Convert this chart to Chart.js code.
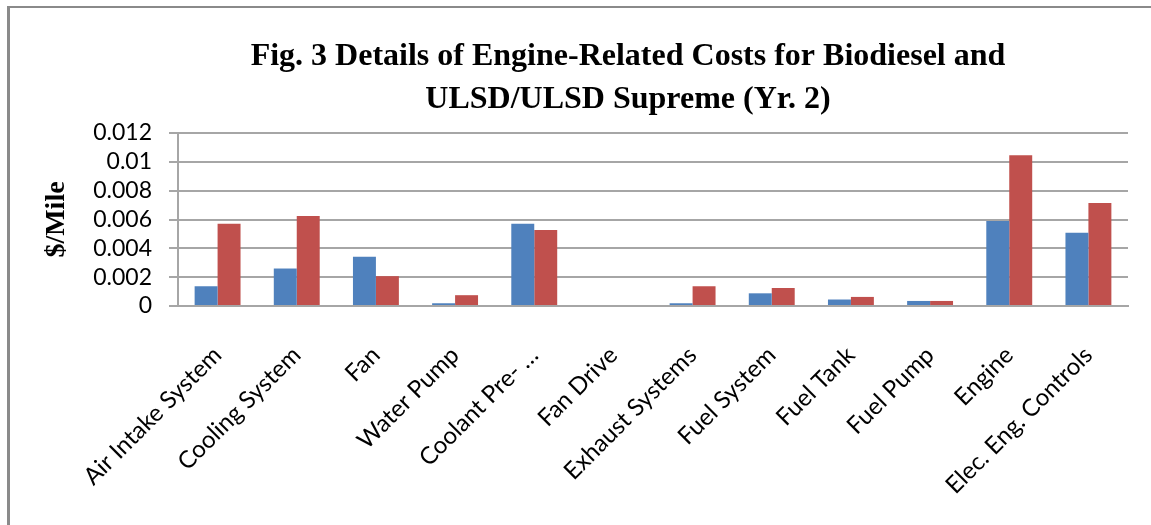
<!DOCTYPE html>
<html>
<head>
<meta charset="utf-8">
<script src="https://cdn.jsdelivr.net/npm/chart.js@4.4.0/dist/chart.umd.min.js"></script>
<style>
  html, body { margin: 0; padding: 0; background: #fff; }
  #wrap { position: relative; width: 1151px; height: 525px; overflow: hidden; }
  #frame { position: absolute; left: 7px; top: 6px; right: -10px; bottom: -10px;
           border-left: 3px solid #8a8a8a; border-top: 2px solid #8a8a8a; pointer-events: none; }
  canvas { position: absolute; left: 0; top: 0; }
</style>
</head>
<body>
<div id="wrap">
  <canvas id="c" width="1151" height="525"></canvas>
  <div id="frame"></div>
</div>
<script>
const categories = ['Air Intake System', 'Cooling System', 'Fan', 'Water Pump', 'Coolant Pre- …',
  'Fan Drive', 'Exhaust Systems', 'Fuel System', 'Fuel Tank', 'Fuel Pump', 'Engine', 'Elec. Eng. Controls'];
const biodiesel = [0.00137, 0.0026, 0.00341, 0.00019, 0.00571, 0, 0.00019, 0.00088, 0.00045, 0.00035, 0.0059, 0.00509];
const ulsd = [0.00571, 0.00625, 0.00207, 0.00075, 0.00527, 0, 0.00137, 0.00125, 0.00063, 0.00035, 0.01045, 0.00714];
const yTickLabels = ['0', '0.002', '0.004', '0.006', '0.008', '0.01', '0.012'];
const titleLines = ['Fig. 3 Details of Engine-Related Costs for Biodiesel and', 'ULSD/ULSD Supreme (Yr. 2)'];
const yAxisTitle = '$/Mile';

const gridColor = '#a6a6a6';

// centre the title on the same span as in the original figure
const titleSpan = {
  id: 'titleSpan',
  afterLayout(chart) {
    const t = chart.titleBlock;
    if (t) { t.left = 128; t.right = 1128; }
  }
};

new Chart(document.getElementById('c'), {
  type: 'bar',
  data: {
    labels: categories,
    datasets: [
      { label: 'Biodiesel', data: biodiesel, backgroundColor: '#4F81BD', borderWidth: 0,
        categoryPercentage: 0.58, barPercentage: 1.0 },
      { label: 'ULSD/ULSD Supreme', data: ulsd, backgroundColor: '#C0504D', borderWidth: 0,
        categoryPercentage: 0.58, barPercentage: 1.0 }
    ]
  },
  plugins: [titleSpan],
  options: {
    responsive: false,
    animation: false,
    layout: { padding: { left: 0, right: 23, top: 0, bottom: 0 } },
    plugins: {
      legend: { display: false },
      tooltip: { enabled: false },
      title: {
        display: true,
        text: titleLines,
        color: '#000',
        font: { family: '"Liberation Serif", "Times New Roman", serif', size: 32, weight: 'bold', lineHeight: 1.344 },
        padding: { top: 35, bottom: 12 }
      }
    },
    scales: {
      x: {
        grid: { display: false, drawTicks: false },
        border: { display: true, color: gridColor, width: 2 },
        ticks: {
          color: '#000',
          font: { family: 'Lato, "Open Sans", sans-serif', size: 24 },
          maxRotation: 45, minRotation: 45, autoSkip: false,
          padding: 35
        },
        afterFit: (s) => { s.height = 219; }
      },
      y: {
        min: 0, max: 0.012,
        grid: { color: gridColor, lineWidth: 2, tickLength: 9, drawTicks: true },
        border: { display: true, color: gridColor, width: 2 },
        ticks: {
          stepSize: 0.002,
          autoSkip: false,
          color: '#000',
          font: { family: 'Lato, "Open Sans", sans-serif', size: 23 },
          padding: 17,
          callback: (v, i) => yTickLabels[i]
        },
        title: {
          display: true,
          text: yAxisTitle,
          color: '#000',
          font: { family: '"Liberation Serif", "Times New Roman", serif', size: 28, weight: 'bold', lineHeight: 1.2 },
          padding: { top: 40, bottom: 0 }
        },
        afterFit: (s) => { s.width = 178; }
      }
    }
  }
});
</script>
</body>
</html>
